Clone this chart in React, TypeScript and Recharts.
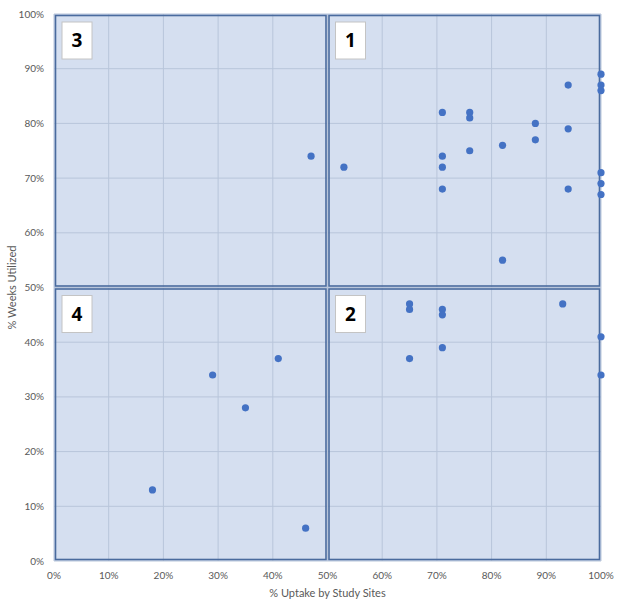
import React from 'react';
import { ScatterChart, Scatter, XAxis, YAxis, CartesianGrid, ReferenceArea } from 'recharts';

// % Uptake by Study Sites (x) and % Weeks Utilized (y), per site
const uptake = [
  47,
  53, 71, 71, 71, 71, 76, 76, 76, 82, 82, 88, 88, 94, 94, 94, 100, 100, 100, 100, 100, 100,
  65, 65, 65, 71, 71, 71, 93, 100, 100,
  18, 29, 35, 41, 46,
];
const weeksUtilized = [
  74,
  72, 82, 74, 72, 68, 82, 81, 75, 76, 55, 80, 77, 87, 79, 68, 89, 87, 86, 71, 69, 67,
  47, 46, 37, 46, 45, 39, 47, 41, 34,
  13, 34, 28, 37, 6,
];

const axisTicks = [0, 10, 20, 30, 40, 50, 60, 70, 80, 90, 100];

const quadrantLabels = ['3', '1', '4', '2'];
const quadrantX1 = [0, 50, 0, 50];
const quadrantX2 = [50, 100, 50, 100];
const quadrantY1 = [50, 50, 0, 0];
const quadrantY2 = [100, 100, 50, 50];

const data = uptake.map((x, i) => ({ x, y: weeksUtilized[i] }));

const FONT = 'Lato, "Open Sans", sans-serif';
const BORDER = '#4a6b9e';

const makeQuadrantShape = (label: string) => (props: any) => {
  const { x, y, width, height } = props;
  const inset = 1.5;
  return (
    <g>
      <rect
        x={x + inset}
        y={y + inset}
        width={width - 2 * inset}
        height={height - 2 * inset}
        fill="none"
        stroke={BORDER}
        strokeWidth={1.6}
      />
      <rect x={x + 8} y={y + 8} width={30} height={37} fill="#ffffff" stroke="#c4c4c4" strokeWidth={1} />
      <text
        x={x + 23}
        y={y + 33}
        textAnchor="middle"
        fontFamily='"Open Sans", sans-serif'
        fontWeight={700}
        fontSize={19}
        fill="#000000"
      >
        {label}
      </text>
    </g>
  );
};

const Dot = (props: any) => {
  const { cx, cy } = props;
  return <circle cx={cx} cy={cy} r={3.6} fill="#4472c4" />;
};

export default function App() {
  return (
    <div style={{ position: 'absolute', left: 0, top: 0, background: '#ffffff' }}>
      <ScatterChart width={618} height={603} margin={{ top: 14, right: 17, bottom: 0, left: 0 }}>
        <CartesianGrid
          fill="#d5dff0"
          stroke="#b8c5da"
          strokeWidth={1}
          horizontalValues={axisTicks}
          verticalValues={axisTicks}
        />
        <XAxis
          type="number"
          dataKey="x"
          domain={[0, 100]}
          ticks={axisTicks}
          tickFormatter={(v: number) => `${v}%`}
          axisLine={false}
          tickLine={false}
          tickMargin={5}
          height={42}
          tick={{ fill: '#595959', fontSize: 10, fontFamily: FONT }}
          label={{
            content: (p: any) => {
              const vb = p.viewBox;
              return (
                <text
                  x={vb.x + vb.width / 2}
                  y={vb.y + 36}
                  textAnchor="middle"
                  fill="#595959"
                  fontSize={11}
                  fontFamily={FONT}
                >
                  % Uptake by Study Sites
                </text>
              );
            },
          }}
        />
        <YAxis
          type="number"
          dataKey="y"
          domain={[0, 100]}
          ticks={axisTicks}
          tickFormatter={(v: number) => `${v}%`}
          axisLine={false}
          tickLine={false}
          tickMargin={4}
          width={54}
          tick={{ fill: '#595959', fontSize: 10, fontFamily: FONT }}
          label={{
            content: (p: any) => {
              const vb = p.viewBox;
              const cx = vb.x + 11;
              const cy = vb.y + vb.height / 2;
              return (
                <text
                  x={cx}
                  y={cy}
                  textAnchor="middle"
                  dominantBaseline="central"
                  transform={`rotate(-90 ${cx} ${cy})`}
                  fill="#595959"
                  fontSize={11}
                  fontFamily={FONT}
                >
                  % Weeks Utilized
                </text>
              );
            },
          }}
        />
        {quadrantLabels.map((label, i) => (
          <ReferenceArea
            key={label}
            x1={quadrantX1[i]}
            x2={quadrantX2[i]}
            y1={quadrantY1[i]}
            y2={quadrantY2[i]}
            ifOverflow="visible"
            shape={makeQuadrantShape(label)}
          />
        ))}
        <Scatter data={data} shape={Dot} isAnimationActive={false} />
      </ScatterChart>
    </div>
  );
}
